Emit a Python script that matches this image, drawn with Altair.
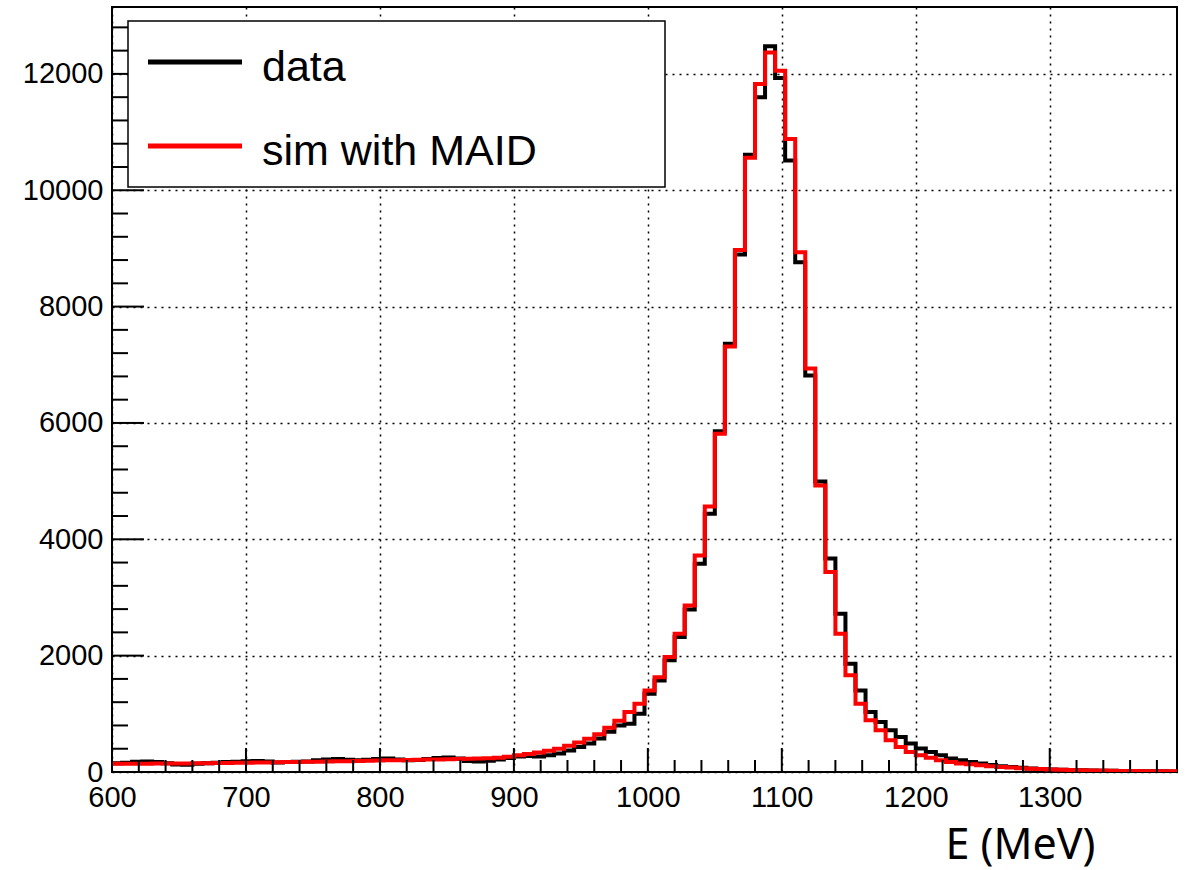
import altair as alt
import pandas as pd

# --- data: 106 bins of 7.5 MeV from 600 to 1395 MeV ---
bin_start = 600.0
bin_width = 7.5
sim_counts = [
    140, 140, 142, 143, 145, 146, 147, 148, 150, 151,
    153, 155, 157, 160, 162, 165, 167, 170, 172, 175,
    178, 180, 183, 186, 189, 192, 196, 200, 203, 206,
    210, 213, 217, 220, 224, 228, 233, 238, 245, 262,
    290, 310, 335, 365, 400, 450, 505, 570, 650, 760,
    880, 1030, 1175, 1400, 1630, 1975, 2378, 2864, 3723, 4565,
    5814, 7313, 8971, 10560, 11827, 12370, 12055, 10880, 8935, 6936,
    4926, 3436, 2378, 1661, 1175, 888, 716, 545, 430, 344,
    287, 247, 201, 172, 144, 132, 118, 100, 88, 76,
    66, 58, 50, 44, 39, 34, 30, 27, 24, 21,
    19, 17, 15, 13, 12, 11,
]
data_counts = [
    150, 160, 175, 180, 170, 150, 130, 125, 140, 150,
    160, 170, 175, 185, 190, 180, 165, 170, 175, 180,
    200, 215, 225, 210, 200, 210, 225, 230, 215, 200,
    205, 225, 240, 250, 230, 190, 180, 195, 215, 240,
    265, 275, 265, 290, 320, 370, 430, 490, 575, 690,
    800, 830, 1003, 1347, 1575, 1919, 2320, 2795, 3580, 4440,
    5858, 7360, 8894, 10612, 11600, 12475, 11930, 10510, 8762, 6815,
    4994, 3671, 2721, 1862, 1403, 1031, 859, 716, 601, 488,
    402, 344, 287, 230, 200, 172, 145, 120, 100, 85,
    72, 62, 52, 45, 39, 34, 30, 26, 23, 20,
    18, 16, 14, 12, 11, 10,
]
series_names = ["data", "sim with MAID"]
series_colors = ["#000000", "#ff0000"]

x_major = [600, 700, 800, 900, 1000, 1100, 1200, 1300]
x_minor = [v for v in range(600, 1395, 20) if v % 100 != 0]
y_major = [0, 2000, 4000, 6000, 8000, 10000, 12000]
y_minor = [v for v in range(0, 13150, 400) if v % 2000 != 0]

X_DOMAIN = [600, 1395]
Y_DOMAIN = [0, 13150]
W, H = 1065, 765
FONT = "Liberation Sans"


def hist_frame(counts):
    n = len(counts)
    edges = [bin_start + i * bin_width for i in range(n + 1)]
    vals = list(counts) + [counts[-1]]
    return pd.DataFrame({"E": edges, "N": vals})


xscale = alt.Scale(domain=X_DOMAIN, nice=False, zero=False)
yscale = alt.Scale(domain=Y_DOMAIN, nice=False)

x_axis = alt.Axis(
    values=x_major, format="d", grid=True, gridColor="black", gridDash=[2, 5], gridWidth=1.5,
    tickSize=0, domain=False, labelFont=FONT, labelFontSize=29, labelColor="black",
    labelPadding=11, labelFlush=False,
    title="E (MeV)", titleFont="Noto Sans", titleFontSize=43, titleFontWeight="normal",
    titleColor="black", titleX=908, titleY=86, titleAlign="center",
    titleBaseline="alphabetic",
)
y_axis = alt.Axis(
    values=y_major, format="d", grid=True, gridColor="black", gridDash=[2, 5], gridWidth=1.5,
    tickSize=0, domain=False, labelFont=FONT, labelFontSize=29, labelColor="black",
    labelPadding=9, title=None,
)

layers = []

# base axes/grid layer
base = alt.Chart(pd.DataFrame({"E": [600.0], "N": [0.0]})).mark_point(opacity=0).encode(
    x=alt.X("E:Q", scale=xscale, axis=x_axis),
    y=alt.Y("N:Q", scale=yscale, axis=y_axis),
)
layers.append(base)

# histograms (data first, simulation on top)
for counts, color in zip([data_counts, sim_counts], series_colors):
    layers.append(
        alt.Chart(hist_frame(counts)).mark_line(
            interpolate="step-after", color=color, strokeWidth=4, clip=True
        ).encode(x=alt.X("E:Q", scale=xscale), y=alt.Y("N:Q", scale=yscale))
    )

# inward ticks (ROOT style)
def xticks(vals, length):
    return alt.Chart(pd.DataFrame({"E": vals})).mark_rule(color="black", strokeWidth=2).encode(
        x=alt.X("E:Q", scale=xscale), y=alt.value(H), y2=alt.value(H - length)
    )


def yticks(vals, length):
    return alt.Chart(pd.DataFrame({"N": vals})).mark_rule(color="black", strokeWidth=2).encode(
        y=alt.Y("N:Q", scale=yscale), x=alt.value(0), x2=alt.value(length)
    )


layers += [xticks(x_major, 24), xticks(x_minor, 12), yticks(y_major, 32), yticks(y_minor, 16)]

# legend box
legend_df = pd.DataFrame({"name": series_names, "color": series_colors})
layers.append(
    alt.Chart(legend_df.head(1)).mark_rect(fill="white", stroke="black", strokeWidth=1.5).encode(
        x=alt.value(16), x2=alt.value(553), y=alt.value(14), y2=alt.value(180)
    )
)
row_y = [55, 139]
for i, (name, color) in enumerate(zip(series_names, series_colors)):
    one = legend_df.iloc[[i]]
    layers.append(
        alt.Chart(one).mark_rule(color=color, strokeWidth=5).encode(
            x=alt.value(36), x2=alt.value(130), y=alt.value(row_y[i])
        )
    )
    layers.append(
        alt.Chart(one).mark_text(
            align="left", baseline="alphabetic", font=FONT, fontSize=43, color="black"
        ).encode(x=alt.value(150), y=alt.value(row_y[i] + 19), text="name:N")
    )

chart = alt.layer(*layers).properties(
    width=W, height=H,
    autosize=alt.AutoSizeParams(type="none"),
    padding={"left": 112, "top": 7, "right": 15, "bottom": 98},
    background="white",
).configure_view(stroke="black", strokeWidth=2)

chart.save("out.html", embed_options={"renderer": "svg", "actions": False})
